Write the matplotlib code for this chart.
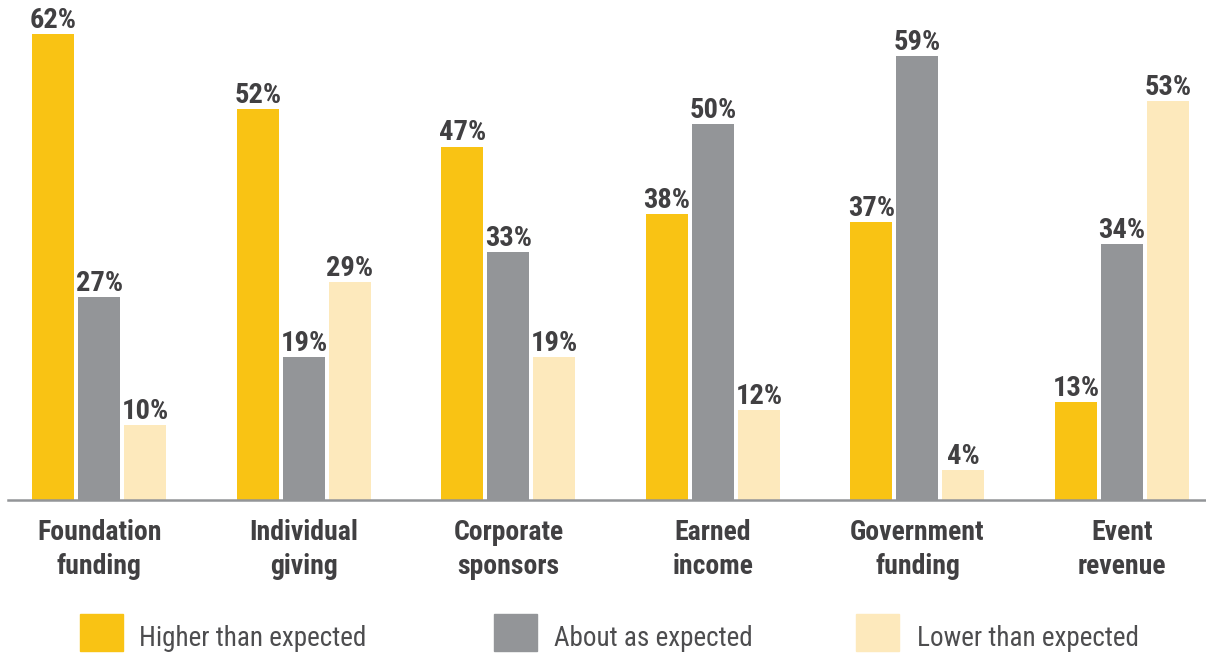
import numpy as np
import matplotlib.pyplot as plt
from matplotlib import font_manager
from matplotlib.patches import Rectangle

categories = ["Foundation\nfunding", "Individual\ngiving", "Corporate\nsponsors",
              "Earned\nincome", "Government\nfunding", "Event\nrevenue"]
series_names = ["Higher than expected", "About as expected", "Lower than expected"]
higher = [62, 52, 47, 38, 37, 13]
about = [27, 19, 33, 50, 59, 34]
lower = [10, 29, 19, 12, 4, 53]

colors = ["#F9C314", "#939598", "#FDE9BC"]
text_col = "#414042"

# pick a narrow face if there is one
installed = {f.name for f in font_manager.fontManager.ttflist}
narrow = [n for n in ["Liberation Sans Narrow", "Roboto Condensed", "DejaVu Sans Condensed",
                      "Open Sans Condensed", "Arial Narrow"] if n in installed]
fam = narrow[:1] + ["DejaVu Sans"]

bold = dict(family=fam, weight="bold")

fig = plt.figure(figsize=(12.06, 6.53), dpi=100)
ax = fig.add_axes([8 / 1206, 1 - 500 / 653, 1198 / 1206, 498 / 653])

x = np.arange(len(categories))
w = 0.205
step = 0.225
for k, vals in enumerate([higher, about, lower]):
    bars = ax.bar(x + (k - 1) * step, vals, width=w, color=colors[k], zorder=2)
    for b, v in zip(bars, vals):
        ax.annotate(f"{v}%", (b.get_x() + b.get_width() / 2, v),
                    xytext=(0, 4.5), textcoords="offset points",
                    ha="center", va="baseline", fontsize=20.5,
                    color=text_col, **bold)

ax.set_xlim(-0.447, 5.411)
ax.set_ylim(0, 500 / 7.55)
ax.set_yticks([])
ax.set_xticks(x)
ax.set_xticklabels(categories, fontsize=20, color=text_col,
                   linespacing=1.3, **bold)
ax.tick_params(axis="x", length=0, pad=14)
for s in ["top", "left", "right"]:
    ax.spines[s].set_visible(False)
ax.spines["bottom"].set_color("#939598")
ax.spines["bottom"].set_linewidth(1.8)

# legend row along the bottom edge
sq_x = [80, 494, 856]
txt_x = [139, 554, 917]
for k in range(3):
    fig.patches.append(Rectangle((sq_x[k] / 1206, 1 - 651 / 653), 43 / 1206, 37 / 653,
                                 transform=fig.transFigure, color=colors[k]))
    fig.text(txt_x[k] / 1206, 1 - 646 / 653, series_names[k], fontsize=19.5,
             color="#4D4D4F", va="baseline", ha="left", family=fam)

fig.savefig("out.png", dpi=100)
